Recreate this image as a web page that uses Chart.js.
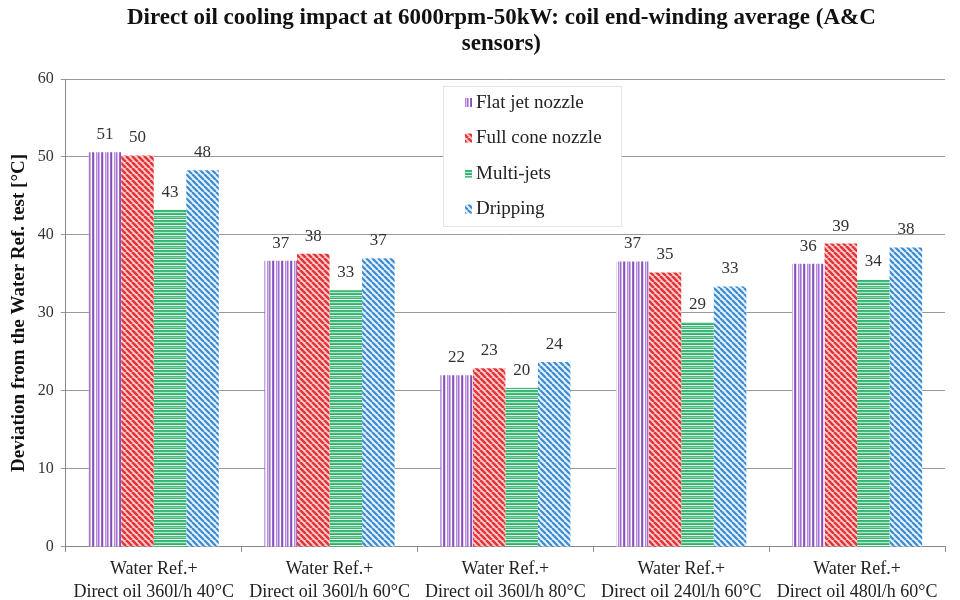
<!DOCTYPE html>
<html>
<head>
<meta charset="utf-8">
<script src="https://cdn.jsdelivr.net/npm/chart.js@4.4.1/dist/chart.umd.min.js"></script>
<style>
  html, body { margin: 0; padding: 0; background: #fff; }
  #wrap { width: 960px; height: 600px; position: relative; }
</style>
</head>
<body>
<div id="wrap"><canvas id="chart" width="960" height="600"></canvas></div>
<script>
// ---- data ----
const titleLines = ['Direct oil cooling impact at 6000rpm-50kW: coil end-winding average (A&C', 'sensors)'];
const categories = [
    ['Water Ref.+', 'Direct oil 360l/h 40°C'],
    ['Water Ref.+', 'Direct oil 360l/h 60°C'],
    ['Water Ref.+', 'Direct oil 360l/h 80°C'],
    ['Water Ref.+', 'Direct oil 240l/h 60°C'],
    ['Water Ref.+', 'Direct oil 480l/h 60°C']
];
const seriesNames = ['Flat jet nozzle', 'Full cone nozzle', 'Multi-jets', 'Dripping'];
const flatJet   = [50.6, 36.7, 22.0, 36.6, 36.3];
const fullCone  = [50.2, 37.6, 22.9, 35.2, 38.9];
const multiJets = [43.2, 32.9, 20.4, 28.8, 34.3];
const dripping  = [48.3, 37.0, 23.7, 33.4, 38.4];
const yTicks = [0, 10, 20, 30, 40, 50, 60];

const SERIF = '"Liberation Serif", "Times New Roman", serif';

// ---- pattern helpers ----
function makeTile(w, h, draw) {
    const c = document.createElement('canvas');
    c.width = w; c.height = h;
    draw(c.getContext('2d'), w, h);
    return document.createElement('canvas').getContext('2d').createPattern(c, 'repeat');
}

const patFlat = makeTile(9, 4, (g, w, h) => {
    const cols = ['#cdb0e6', '#ffffff', '#9a64c8', '#8450b8', '#e4d4f2', '#ffffff', '#b58ad8', '#d9c2ee', '#a070cc'];
    cols.forEach((c, i) => { g.fillStyle = c; g.fillRect(i, 0, 1, h); });
});

function diagTile(bg, fg, size, lw) {
    return makeTile(size, size, (g, w, h) => {
        g.fillStyle = bg; g.fillRect(0, 0, w, h);
        g.strokeStyle = fg; g.lineWidth = lw;
        g.beginPath();
        for (let k = -1; k <= 1; k++) {
            g.moveTo(k * w, 0);
            g.lineTo(k * w + w, h);
        }
        g.stroke();
    });
}

const patCone = diagTile('#fbd0d0', '#e2363a', 6, 2.6);
const patDrip = diagTile('#e4f0fb', '#3b8bd2', 6, 2.2);

const patMulti = makeTile(4, 10, (g, w, h) => {
    const rows = ['#34b56f', '#3cbc76', '#b6e6cb', '#47c07e', '#2fae68', '#e8f7ee', '#45bd7c', '#8fd6ae', '#38b873', '#ffffff'];
    rows.forEach((c, i) => { g.fillStyle = c; g.fillRect(0, i, w, 1); });
});

const patterns = [patFlat, patCone, patMulti, patDrip];
const seriesData = [flatJet, fullCone, multiJets, dripping];

// ---- plugins ----
// title centred over the plot area, like the original
const plotTitle = {
    id: 'plotTitle',
    afterDraw(chart) {
        const ctx = chart.ctx;
        const cx = (chart.chartArea.left + chart.chartArea.right) / 2;
        ctx.save();
        ctx.font = 'bold 23px ' + SERIF;
        ctx.fillStyle = '#111';
        ctx.textAlign = 'center';
        ctx.textBaseline = 'middle';
        titleLines.forEach((line, i) => ctx.fillText(line, cx - 4, 18 + i * 26));
        ctx.restore();
    }
};

const valueLabels = {
    id: 'valueLabels',
    afterDatasetsDraw(chart) {
        const ctx = chart.ctx;
        ctx.save();
        ctx.font = '17px ' + SERIF;
        ctx.fillStyle = '#333';
        ctx.textAlign = 'center';
        ctx.textBaseline = 'bottom';
        chart.data.datasets.forEach((ds, i) => {
            chart.getDatasetMeta(i).data.forEach((bar, j) => {
                ctx.fillText(Math.round(ds.data[j]), bar.x, bar.y - 9);
            });
        });
        ctx.restore();
    }
};

const boxLegend = {
    id: 'boxLegend',
    afterDraw(chart) {
        const ctx = chart.ctx;
        const x = 443, y = 86, w = 178, h = 140;
        ctx.save();
        ctx.fillStyle = '#fff';
        ctx.fillRect(x, y, w, h);
        ctx.strokeStyle = '#e4e4e4';
        ctx.lineWidth = 1;
        ctx.strokeRect(x + 0.5, y + 0.5, w, h);
        ctx.font = '19px ' + SERIF;
        ctx.textBaseline = 'middle';
        chart.data.datasets.forEach((ds, i) => {
            const cy = y + 17 + i * 35.5;
            ctx.fillStyle = ds.backgroundColor;
            ctx.fillRect(x + 22, cy - 5, 7, 9);
            ctx.fillStyle = '#222';
            ctx.fillText(ds.label, x + 33, cy);
        });
        ctx.restore();
    }
};

new Chart(document.getElementById('chart').getContext('2d'), {
    type: 'bar',
    data: {
        labels: categories,
        datasets: seriesNames.map((name, i) => ({
            label: name,
            data: seriesData[i],
            backgroundColor: patterns[i],
            borderWidth: 0,
            categoryPercentage: 0.74,
            barPercentage: 1.0
        }))
    },
    options: {
        responsive: false,
        animation: false,
        layout: { padding: { left: 8, right: 15, top: 79, bottom: -10 } },
        plugins: {
            legend: { display: false },
            tooltip: { enabled: false },
            title: { display: false }
        },
        scales: {
            x: {
                grid: { display: true, drawOnChartArea: false, offset: true, tickLength: 5, color: '#888' },
                border: { color: '#888' },
                ticks: {
                    color: '#222',
                    font: { family: SERIF, size: 18, lineHeight: 1.28 },
                    maxRotation: 0,
                    padding: 6
                }
            },
            y: {
                min: 0,
                max: 60,
                afterBuildTicks(axis) { axis.ticks = yTicks.map(v => ({ value: v })); },
                grid: { color: '#999', tickLength: 5 },
                border: { color: '#888' },
                ticks: {
                    color: '#333',
                    font: { family: SERIF, size: 16 },
                    padding: 7
                },
                title: {
                    display: true,
                    text: 'Deviation from the Water Ref. test [°C]',
                    color: '#111',
                    font: { family: SERIF, size: 19, weight: 'bold' },
                    padding: { top: 0, bottom: 0 }
                }
            }
        }
    },
    plugins: [plotTitle, valueLabels, boxLegend]
});
</script>
</body>
</html>
